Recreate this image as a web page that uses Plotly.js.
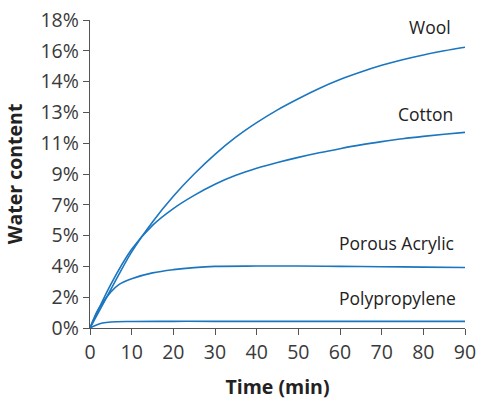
<!DOCTYPE html>
<html>
<head>
<meta charset="utf-8">
<script src="https://cdn.plot.ly/plotly-3.0.1.min.js"></script>
<style>html,body{margin:0;padding:0;background:#fff;}#chart{width:477px;height:400px;}</style>
</head>
<body>
<div id="chart"></div>
<script>
// Data (time in minutes, water content in %)
const timeWool = [0, 5, 10, 15, 20, 25, 30, 35, 40, 45, 50, 55, 60, 65, 70, 75, 80, 85, 90];
const wool     = [0, 2.25, 4.45, 6.2, 7.7, 9.0, 10.15, 11.15, 12.0, 12.75, 13.4, 14.0, 14.52, 14.96, 15.35, 15.68, 15.96, 16.2, 16.41];
const timeCotton = [0, 5, 10, 15, 20, 25, 30, 35, 40, 45, 50, 55, 60, 65, 70, 75, 80, 85, 90];
const cotton     = [0, 2.55, 4.6, 6.0, 6.98, 7.75, 8.4, 8.92, 9.33, 9.67, 9.97, 10.24, 10.48, 10.7, 10.89, 11.06, 11.2, 11.32, 11.43];
const timeAcrylic = [0, 2, 5, 7, 10, 15, 20, 25, 30, 40, 50, 60, 70, 80, 90];
const acrylic     = [0, 1.1, 2.1, 2.55, 2.88, 3.22, 3.41, 3.53, 3.6, 3.62, 3.62, 3.6, 3.58, 3.56, 3.54];
const timePP = [0, 1, 2, 3, 5, 10, 20, 30, 50, 70, 90];
const pp     = [0, 0.12, 0.22, 0.29, 0.35, 0.38, 0.39, 0.39, 0.39, 0.39, 0.39];

const seriesNames = ["Wool", "Cotton", "Porous Acrylic", "Polypropylene"];
const labelX = [87.2, 87.6, 87.9, 88.2];
const labelY = [17.6, 12.5, 4.98, 1.76];
const xTicks = [0, 10, 20, 30, 40, 50, 60, 70, 80, 90];
const yTickVals = [0, 1.8, 3.6, 5.4, 7.2, 9, 10.8, 12.6, 14.4, 16.2, 18];
const yTickText = ["0%", "2%", "4%", "5%", "7%", "9%", "11%", "13%", "14%", "16%", "18%"];

const lineColor = "#1b76c0";
const font = "Open Sans, sans-serif";

const xs = [timeWool, timeCotton, timeAcrylic, timePP];
const ys = [wool, cotton, acrylic, pp];
const traces = ys.map((y, i) => ({
  x: xs[i], y: y, type: "scatter", mode: "lines", name: seriesNames[i],
  line: {color: lineColor, width: 1.6, shape: "spline", smoothing: 1},
  hoverinfo: "skip"
}));

const annotations = seriesNames.map((n, i) => ({
  x: labelX[i], y: labelY[i], xref: "x", yref: "y",
  text: n, showarrow: false, xanchor: "right", yanchor: "middle",
  font: {family: font, size: 17.5, color: "#222"}
}));

const layout = {
  width: 477, height: 400,
  margin: {l: 90, r: 12, t: 20, b: 72},
  paper_bgcolor: "#fff", plot_bgcolor: "#fff",
  showlegend: false,
  font: {family: font, size: 19.5, color: "#3a3a3a"},
  xaxis: {
    range: [0, 90], tickvals: xTicks, ticks: "outside", ticklen: 6, tickcolor: "#555",
    showline: true, linecolor: "#555", linewidth: 1.3, showgrid: false, zeroline: false,
    tickfont: {family: font, size: 19.5, color: "#3a3a3a"},
    title: {text: "<b>Time (min)</b>", font: {family: font, size: 19.5, color: "#222"}, standoff: 18}
  },
  yaxis: {
    range: [0, 18], tickvals: yTickVals, ticktext: yTickText, ticks: "outside", ticklen: 6, tickcolor: "#555",
    showline: true, linecolor: "#555", linewidth: 1.3, showgrid: false, zeroline: false,
    tickfont: {family: font, size: 19.5, color: "#3a3a3a"},
    title: {text: "<b>Water content</b>", font: {family: font, size: 19.5, color: "#222"}, standoff: 12}
  },
  annotations: annotations
};

Plotly.newPlot("chart", traces, layout, {staticPlot: true, displayModeBar: false});
</script>
</body>
</html>
